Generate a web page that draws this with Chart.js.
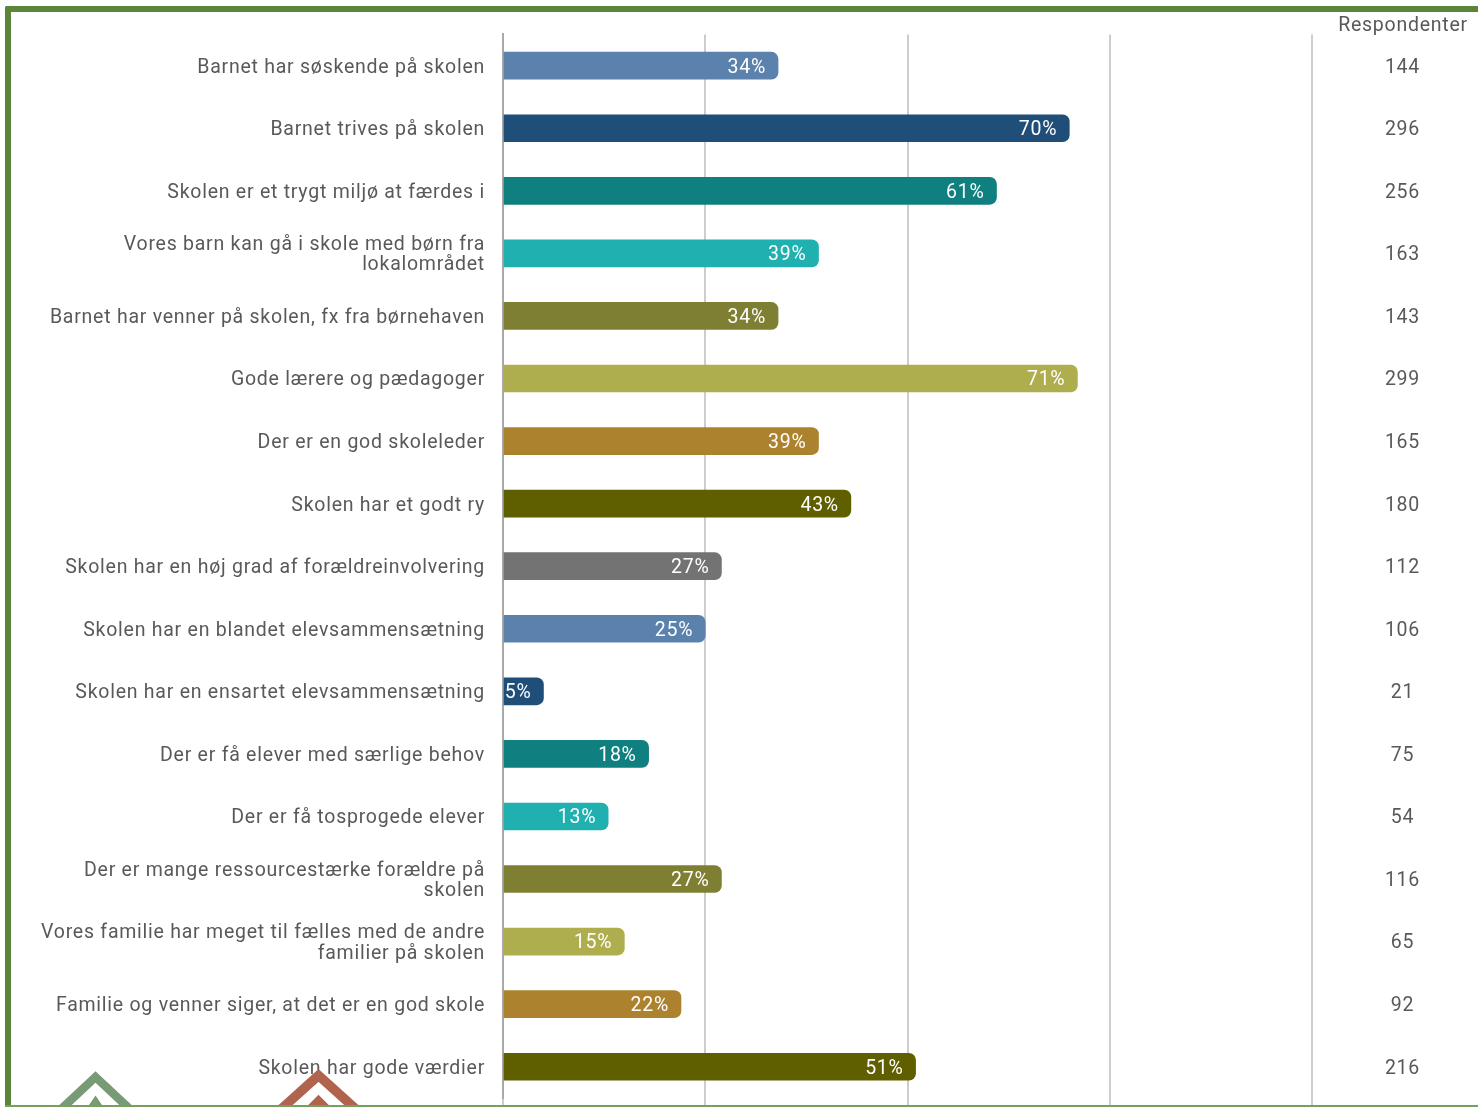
<!DOCTYPE html>
<html><head><meta charset="utf-8">
<style>
html,body{margin:0;padding:0;background:#fff;width:1478px;height:1107px;overflow:hidden}
#wrap{position:relative;width:1478px;height:1107px;overflow:hidden}
canvas{position:absolute;left:0;top:0}
#frame{position:absolute;left:5px;top:6px;width:1500px;height:1100px;box-sizing:border-box;border:solid #5b8539;border-width:6px 0 0 6px;border-top-left-radius:2px}
#bottom{position:absolute;left:5px;top:1105px;width:1473px;height:2px;background:#77a05e}
svg{position:absolute;left:0;top:0}
</style>
<script src="https://cdn.jsdelivr.net/npm/chart.js@4"></script>
</head><body>
<div id="wrap">
<canvas id="c" width="1478" height="1107"></canvas>
<svg width="1478" height="1107" fill="none">
<path d="M53.8 1116 L95.5 1077 L137.2 1116" stroke="#789a75" stroke-width="8.5"/>
<path d="M80 1126 L95.5 1103 L111 1126" stroke="#789a75" stroke-width="8.5"/>
<path d="M273.5 1116 L318.5 1075.5 L363.5 1116" stroke="#b0644e" stroke-width="9.5"/>
<path d="M298 1122 L318.5 1101.5 L339 1122" stroke="#b0644e" stroke-width="9.5"/>
</svg>
<div id="frame"></div><div id="bottom"></div>
</div>
<script>
const categories = [
 "Barnet har søskende på skolen","Barnet trives på skolen","Skolen er et trygt miljø at færdes i",
 ["Vores barn kan gå i skole med børn fra","lokalområdet"],"Barnet har venner på skolen, fx fra børnehaven",
 "Gode lærere og pædagoger","Der er en god skoleleder","Skolen har et godt ry",
 "Skolen har en høj grad af forældreinvolvering","Skolen har en blandet elevsammensætning",
 "Skolen har en ensartet elevsammensætning","Der er få elever med særlige behov","Der er få tosprogede elever",
 ["Der er mange ressourcestærke forældre på","skolen"],["Vores familie har meget til fælles med de andre","familier på skolen"],
 "Familie og venner siger, at det er en god skole","Skolen har gode værdier"];
const percentValues = [34,70,61,39,34,71,39,43,27,25,5,18,13,27,15,22,51];
const respondents = ["144","296","256","163","143","299","165","180","112","106","21","75","54","116","65","92","216"];
const barColors = ["#5b81ad","#1f4e79","#0f7f7f","#20b0b0","#7f7f33","#afae4e","#ad822e","#5f5f00","#737373",
 "#5b81ad","#1f4e79","#0f7f7f","#20b0b0","#7f7f33","#afae4e","#ad822e","#5f5f00"];
const rightHeader = "Respondenter";

const FONT = {family:"Roboto", size:19.5};
const SPACING = "0.75px";
const TEXT = "#595959";

const extras = {
  id:"extras",
  beforeDraw(chart){ chart.ctx.letterSpacing = SPACING; },
  afterDatasetsDraw(chart){
    const ctx = chart.ctx;
    ctx.save();
    ctx.font = "19.5px Roboto";
    ctx.letterSpacing = SPACING;
    ctx.fillStyle = "#ffffff";
    ctx.textAlign = "right";
    ctx.textBaseline = "middle";
    chart.getDatasetMeta(0).data.forEach((bar,i)=>{
      ctx.fillText(percentValues[i]+"%", bar.x-12, bar.y+2);
    });
    const r = chart.scales.y2;
    ctx.fillStyle = TEXT;
    ctx.textAlign = "center";
    ctx.fillText(rightHeader, r.left+91, 26);
    ctx.restore();
  }
};
function noPad(s){s.paddingTop=0;s.paddingBottom=0;s.paddingLeft=0;s.paddingRight=0;}

new Chart(document.getElementById("c"),{
  type:"bar",
  plugins:[extras],
  data:{labels:categories,datasets:[{data:percentValues,backgroundColor:barColors,barThickness:27,
    borderRadius:{topLeft:0,bottomLeft:0,topRight:7,bottomRight:7},borderSkipped:false,yAxisID:"y",xAxisID:"x"}]},
  options:{
    indexAxis:"y",responsive:false,animation:false,
    layout:{padding:{top:34.4,left:0,right:0,bottom:0}},
    plugins:{legend:{display:false},tooltip:{enabled:false},title:{display:false}},
    scales:{
      x:{type:"linear",min:0,max:100,position:"bottom",
        ticks:{stepSize:25,display:false},
        grid:{color:"#cdcdcd",lineWidth:2,drawTicks:true,tickLength:8},
        border:{display:false},
        afterFit(s){s.height=9;noPad(s);}},
      y:{type:"category",position:"left",offset:true,
        grid:{display:false,drawTicks:false},
        border:{display:true,color:"#a9a9a9",width:2},
        ticks:{autoSkip:false,font:{...FONT,lineHeight:1.05},color:TEXT,padding:18,crossAlign:"near",labelOffset:2},
        afterFit(s){s.width=503;noPad(s);}},
      y2:{type:"category",position:"right",offset:true,labels:respondents,
        grid:{display:false,drawTicks:false},border:{display:false},
        ticks:{autoSkip:false,font:FONT,color:TEXT,padding:74,crossAlign:"center",labelOffset:2},
        afterFit(s){s.width=166;noPad(s);}}
    }
  }
});
</script>
</body></html>
